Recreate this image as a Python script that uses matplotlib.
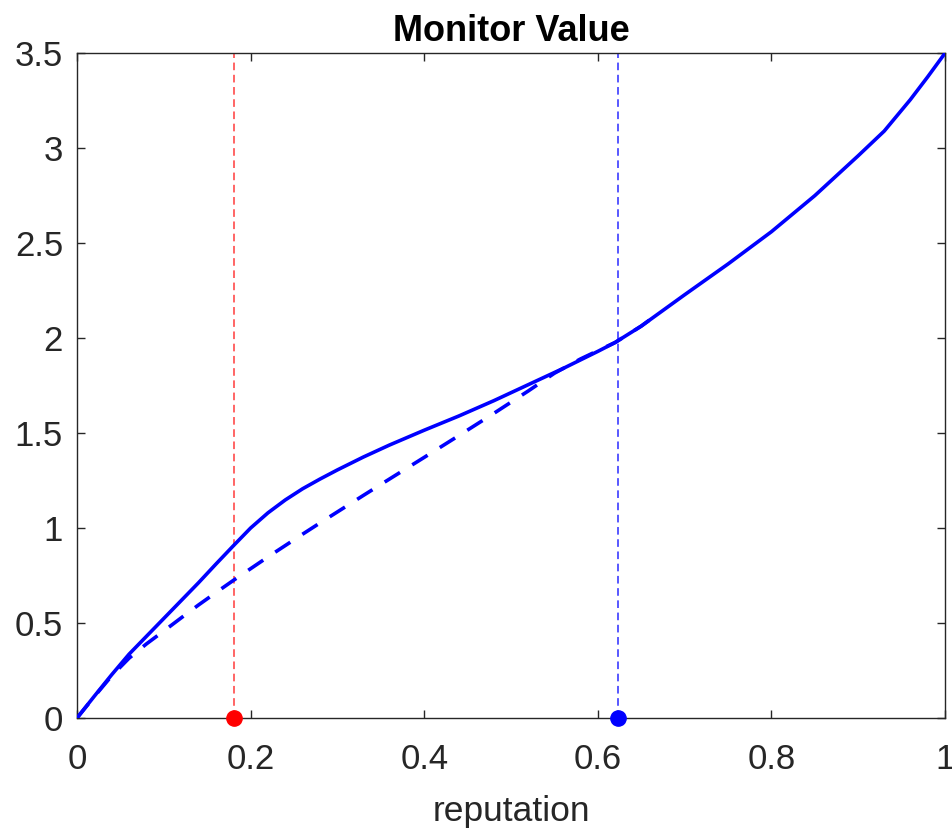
import matplotlib
matplotlib.use("Agg")
import matplotlib.pyplot as plt

plt.rcParams['font.family'] = ['Liberation Sans', 'DejaVu Sans']

# Solid curve (monitor value)
solid_x = [0.0, 0.02, 0.04, 0.06, 0.08, 0.10, 0.12, 0.14, 0.16, 0.18, 0.20, 0.22, 0.24, 0.26, 0.28,
           0.30, 0.33, 0.36, 0.40, 0.44, 0.48, 0.52, 0.56, 0.60, 0.62, 0.65, 0.70, 0.75, 0.80, 0.85,
           0.90, 0.93, 0.96, 0.98, 1.0]
solid_y = [0.0, 0.115, 0.228, 0.336, 0.430, 0.524, 0.618, 0.712, 0.810, 0.906, 1.000, 1.080, 1.148, 1.207, 1.258,
           1.306, 1.374, 1.437, 1.515, 1.590, 1.670, 1.755, 1.840, 1.930, 1.977, 2.063, 2.228, 2.390, 2.560, 2.750,
           2.960, 3.090, 3.255, 3.375, 3.500]

# Dashed curve
dash_x = [0.0, 0.02, 0.04, 0.06, 0.08, 0.10, 0.12, 0.14, 0.16, 0.18, 0.20, 0.22, 0.24, 0.26, 0.28,
          0.30, 0.33, 0.36, 0.40, 0.44, 0.48, 0.52, 0.55, 0.58, 0.62, 0.65, 0.67]
dash_y = [0.0, 0.113, 0.222, 0.315, 0.390, 0.458, 0.527, 0.595, 0.660, 0.724, 0.786, 0.848, 0.908, 0.968, 1.027,
          1.085, 1.172, 1.258, 1.372, 1.487, 1.603, 1.722, 1.815, 1.890, 1.977, 2.063, 2.130]

red_x = 0.181
blue_x = 0.623

x_ticks = [0, 0.2, 0.4, 0.6, 0.8, 1]
x_labels = ['0', '0.2', '0.4', '0.6', '0.8', '1']
y_ticks = [0, 0.5, 1, 1.5, 2, 2.5, 3, 3.5]
y_labels = ['0', '0.5', '1', '1.5', '2', '2.5', '3', '3.5']

fig = plt.figure(figsize=(9.53, 8.31), dpi=100)
ax = fig.add_axes([0.0808, 0.136, 0.9108, 0.800])

ax.axvline(red_x, color='#ff3b3b', linestyle=(0, (5, 3)), linewidth=1.1, zorder=1)
ax.axvline(blue_x, color='#2a2aff', linestyle=(0, (5, 3)), linewidth=1.1, zorder=1)
ax.plot(dash_x, dash_y, color='#0000ff', linewidth=2.6, linestyle=(0, (5.0, 4.0)), zorder=2)
ax.plot(solid_x, solid_y, color='#0000ff', linewidth=2.6, zorder=3,
        solid_joinstyle='round')
ax.plot([red_x], [0], 'o', color='#ff0000', markersize=11, clip_on=False, zorder=5)
ax.plot([blue_x], [0], 'o', color='#0000ff', markersize=11, clip_on=False, zorder=5)

ax.set_xlim(0, 1)
ax.set_ylim(0, 3.5)
ax.set_xticks(x_ticks)
ax.set_xticklabels(x_labels)
ax.set_yticks(y_ticks)
ax.set_yticklabels(y_labels)

gray = '#262626'
ax.tick_params(direction='in', length=6, width=1, colors=gray, labelsize=25,
               top=True, right=True)
ax.tick_params(axis='x', pad=18)
ax.tick_params(axis='y', pad=10)
for s in ax.spines.values():
    s.set_color(gray)
    s.set_linewidth(1)

ax.set_title('Monitor Value', fontsize=26, fontweight='bold', pad=8.5)
ax.set_xlabel('reputation', fontsize=25.5, color=gray, labelpad=14)

fig.savefig('out.png', dpi=100)
